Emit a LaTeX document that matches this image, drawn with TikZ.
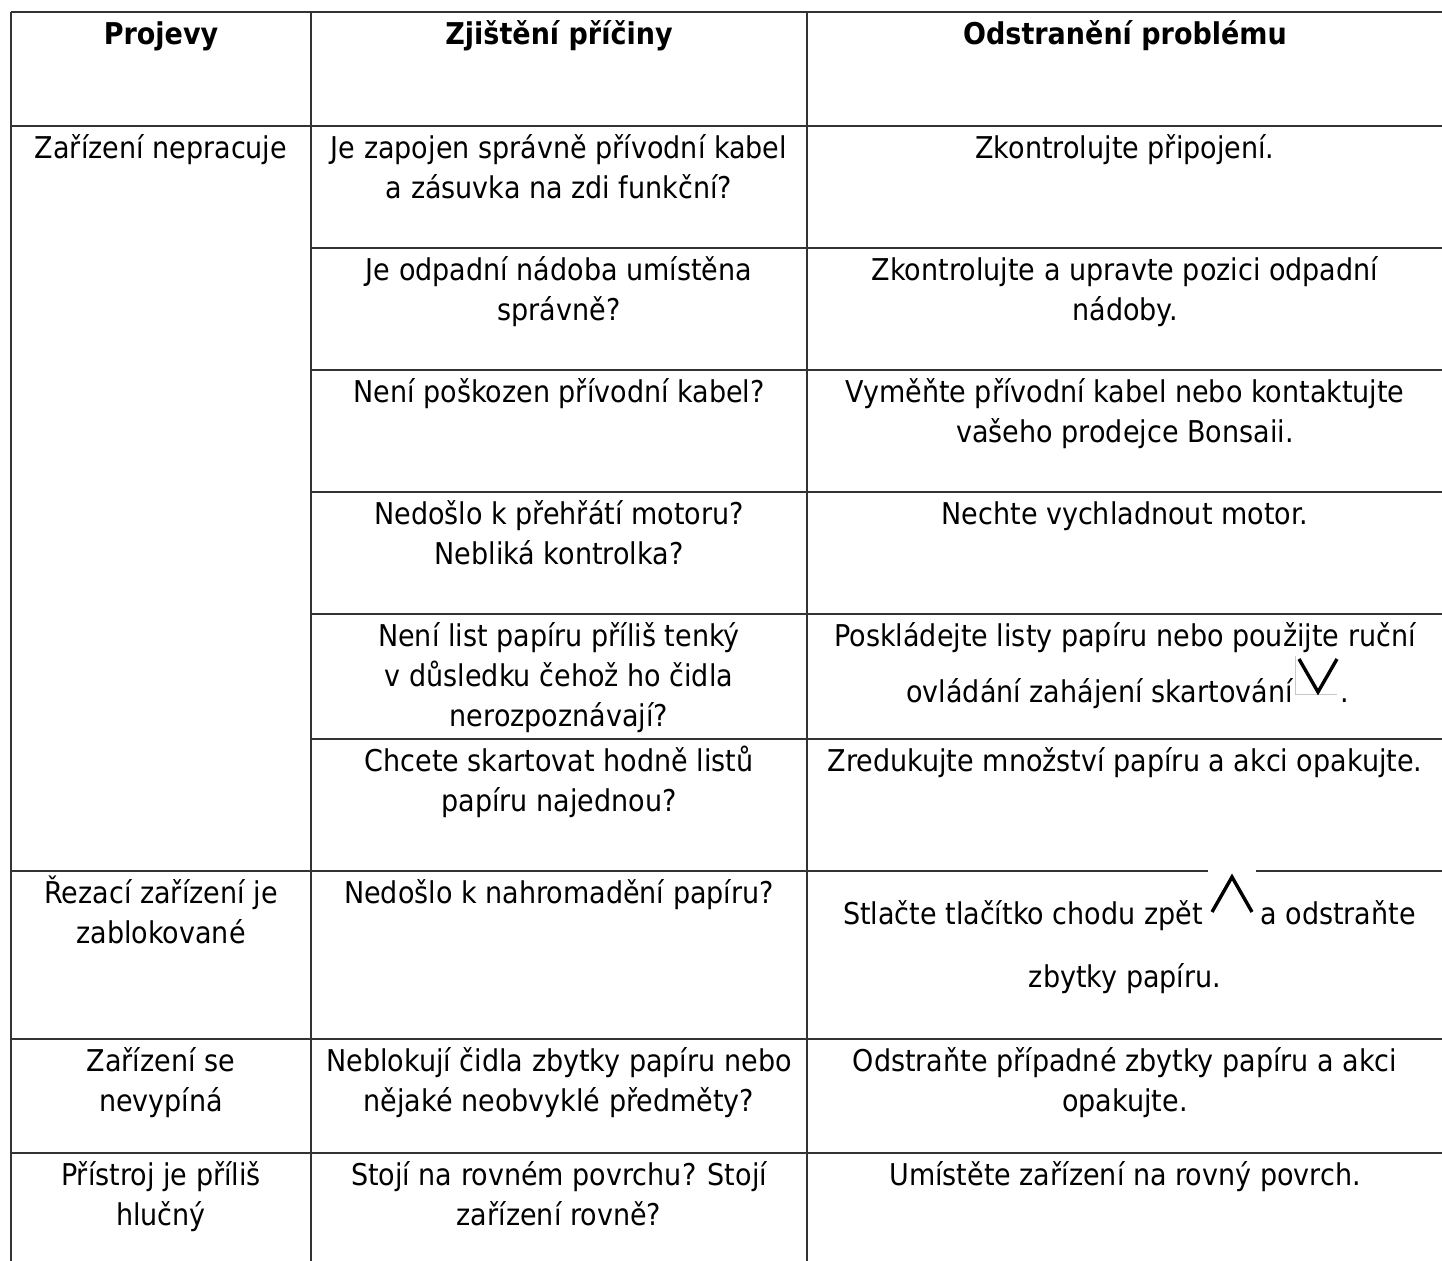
\documentclass[tikz,border=0pt]{standalone}
\usepackage{fontspec}
\setmainfont{DejaVu Sans}[FakeStretch=0.9]
\definecolor{gridgray}{RGB}{51,51,51}
\definecolor{framegray}{RGB}{200,200,200}
\newcommand\cs{\rule{0pt}{16pt}}
\begin{document}
\begin{tikzpicture}[x=0.5pt,y=-0.5pt,
  cell/.style={anchor=north, inner sep=0pt, align=center, text=black, font=\fontsize{15}{20}\selectfont},
  head/.style={cell, font=\fontsize{15}{20}\selectfont\bfseries},
  piece/.style={inner sep=0pt, text=black, font=\fontsize{15}{20}\selectfont},
  gridline/.style={draw=gridgray, line width=1pt},
  icon/.style={draw=black, line width=1.7pt, line join=miter}]
\clip (0,0) rectangle (1442,1261);
\fill[white] (0,0) rectangle (1442,1261);
% grid
\draw[gridline] (11,12) -- (1450,12);
\draw[gridline] (11,126) -- (1450,126);
\draw[gridline] (311,248) -- (1450,248);
\draw[gridline] (311,370) -- (1450,370);
\draw[gridline] (311,492) -- (1450,492);
\draw[gridline] (311,614) -- (1450,614);
\draw[gridline] (311,739) -- (1450,739);
\draw[gridline] (11,871) -- (1450,871);
\draw[gridline] (11,1039) -- (1450,1039);
\draw[gridline] (11,1153) -- (1450,1153);
\draw[gridline] (11,12) -- (11,1270);
\draw[gridline] (311,12) -- (311,1270);
\draw[gridline] (807,12) -- (807,1270);
% header
\node[head] (h1) at (161,12) {\cs Projevy};
\node[head] (h2) at (559,12) {\cs Zjištění příčiny};
\node[head] (h3) at (1125,12) {\cs Odstranění problému};
% column 1
\node[cell] (p1) at (161,126) {\cs Zařízení nepracuje};
\node[cell] (p2) at (161,871) {\cs Řezací zařízení je\\zablokované};
\node[cell] (p3) at (161,1039) {\cs Zařízení se\\nevypíná};
\node[cell] (p4) at (161,1153) {\cs Přístroj je příliš\\hlučný};
% column 2
\node[cell] (z1) at (559,126) {\cs Je zapojen správně přívodní kabel\\a zásuvka na zdi funkční?};
\node[cell] (z2) at (559,248) {\cs Je odpadní nádoba umístěna\\správně?};
\node[cell] (z3) at (559,370) {\cs Není poškozen přívodní kabel?};
\node[cell] (z4) at (559,492) {\cs Nedošlo k přehřátí motoru?\\Nebliká kontrolka?};
\node[cell] (z5) at (559,614) {\cs Není list papíru příliš tenký\\v důsledku čehož ho čidla\\nerozpoznávají?};
\node[cell] (z6) at (559,739) {\cs Chcete skartovat hodně listů\\papíru najednou?};
\node[cell] (z7) at (559,871) {\cs Nedošlo k nahromadění papíru?};
\node[cell] (z8) at (559,1039) {\cs Neblokují čidla zbytky papíru nebo\\nějaké neobvyklé předměty?};
\node[cell] (z9) at (559,1153) {\cs Stojí na rovném povrchu? Stojí\\zařízení rovně?};
% column 3
\node[cell] (o1) at (1125,126) {\cs Zkontrolujte připojení.};
\node[cell] (o2) at (1125,248) {\cs Zkontrolujte a upravte pozici odpadní\\nádoby.};
\node[cell] (o3) at (1125,370) {\cs Vyměňte přívodní kabel nebo kontaktujte\\vašeho prodejce Bonsaii.};
\node[cell] (o4) at (1125,492) {\cs Nechte vychladnout motor.};
\node[cell] (o5) at (1125,614) {\cs Poskládejte listy papíru nebo použijte ruční};
\node[piece, anchor=base east] (o5b) at (1293,703) {ovládání zahájení skartování};
\draw[framegray, line width=0.5pt] (o5b.base east) ++(2,-47) -- ++(0,39) -- ++(42,0);
\draw[icon] (o5b.base east) ++(6,-44) -- ++(19,33) -- ++(19,-33);
\node[piece, anchor=base west] (o5c) at (1340,703) {.};
\node[cell] (o6) at (1125,739) {\cs Zredukujte množství papíru a akci opakujte.};
\node[piece, anchor=base east] (o7a) at (1203,925) {Stlačte tlačítko chodu zpět};
\fill[white] (1208,866) rectangle (1256,876);
\draw[icon] (o7a.base east) ++(9,-13) -- ++(20,-35) -- ++(20,35);
\node[piece, anchor=base west] (o7b) at (1260,925) {a odstraňte};
\node[piece, anchor=base] (o7c) at (1125,987) {zbytky papíru.};
\node[cell] (o8) at (1125,1039) {\cs Odstraňte případné zbytky papíru a akci\\opakujte.};
\node[cell] (o9) at (1125,1153) {\cs Umístěte zařízení na rovný povrch.};
\end{tikzpicture}
\end{document}
